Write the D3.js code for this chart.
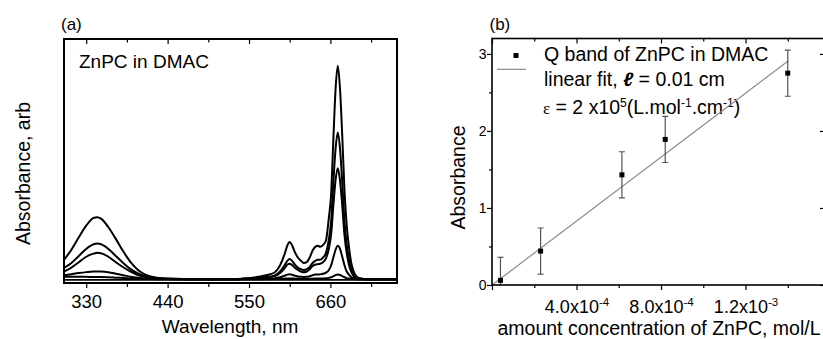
<!DOCTYPE html>
<html>
<head>
<meta charset="utf-8">
<script src="https://cdn.jsdelivr.net/npm/d3@7"></script>
<style>
  body { margin: 0; background: #fff; }
  svg { display: block; font-family: "Liberation Sans", Arial, sans-serif; }
</style>
</head>
<body>
<svg id="chart" width="823" height="339"></svg>
<script>
// ---- panel (a) data: absorption spectra of ZnPC in DMAC ----
const wavelength = [300, 310, 320, 330, 340, 345, 350, 360, 370, 380, 390, 400, 410, 420, 440, 480, 520, 540, 555, 565,
  575, 585, 592, 598, 602, 605, 608, 612, 616, 620, 624, 628, 632, 636, 640, 643, 646, 650, 654, 658,
  661, 664, 667, 670, 673, 676, 679, 682, 685, 688, 691, 695, 700, 710, 730, 750];
const spec1 = [.25, .38, .54, .69, .79, .80, .78, .67, .52, .36, .22, .12, .06, .03, .01, 0, 0, .008, .02, .035,
  .055, .09, .18, .32, .44, .48, .44, .35, .28, .24, .21, .22, .28, .37, .42, .43, .42, .44, .50, .80,
  1.10, 1.80, 2.45, 2.75, 2.45, 1.85, 1.15, .70, .42, .22, .11, .04, .012, 0, 0, 0];
const spec2 = [.145, .21, .30, .39, .45, .46, .45, .39, .30, .21, .13, .075, .04, .02, .006, 0, 0, .005, .012, .02,
  .03, .05, .10, .18, .24, .26, .24, .19, .15, .13, .12, .13, .16, .21, .24, .25, .25, .28, .34, .52,
  .75, 1.25, 1.68, 1.89, 1.68, 1.25, .75, .45, .26, .13, .06, .02, .006, 0, 0, 0];
const spec3 = [.10, .15, .22, .29, .33, .34, .335, .29, .22, .155, .10, .055, .03, .015, .005, 0, 0, .004, .01, .016,
  .025, .04, .08, .14, .19, .20, .185, .15, .12, .10, .09, .10, .13, .17, .19, .195, .20, .22, .27, .40,
  .58, .95, 1.28, 1.43, 1.27, .95, .57, .34, .19, .10, .045, .015, .004, 0, 0, 0];
const spec4 = [.05, .065, .08, .092, .10, .10, .099, .09, .072, .052, .033, .02, .01, .005, .002, 0, 0, .001, .003, .005,
  .008, .013, .025, .045, .06, .064, .058, .045, .037, .033, .03, .032, .04, .052, .06, .062, .063, .07, .085, .12,
  .18, .28, .38, .43, .39, .29, .18, .10, .06, .03, .015, .005, .001, 0, 0, 0];
const spec5 = [.033, .033, .032, .031, .03, .03, .029, .026, .021, .016, .011, .007, .004, .002, .001, 0, 0, 0, 0, .001,
  .002, .003, .005, .008, .01, .011, .01, .008, .006, .005, .005, .005, .006, .008, .009, .009, .01, .011, .013, .018,
  .026, .04, .054, .06, .055, .04, .026, .015, .009, .005, .002, .001, 0, 0, 0, 0];
const blankWl = [300, 750];
const blank = [-0.008, -0.008];
const wlMajor = [330, 440, 550, 660];
const wlMinor = [385, 495, 605, 715];

// ---- panel (b) data: Q band absorbance vs concentration ----
const conc = [4.0e-5, 2.3e-4, 6.15e-4, 8.2e-4, 1.40e-3];
const absorb = [0.06, 0.44, 1.43, 1.89, 2.75];
const absErr = [0.3, 0.3, 0.3, 0.3, 0.3];
const fitConc = [0, 1.403e-3];
const fitAbs = [0, 2.91];
const concMajor = [0, 4e-4, 8e-4, 1.2e-3];
const concMinor = [2e-4, 6e-4, 1e-3, 1.4e-3];
const concTickBase = ["", "4.0x10", "8.0x10", "1.2x10"];
const concTickExp = ["", "-4", "-4", "-3"];
const absMajor = [0, 1, 2, 3];
const absMinor = [0.5, 1.5, 2.5];

const svg = d3.select('#chart');

// ================= panel (a) =================
const pa = { left: 64, right: 397, top: 39, bottom: 283 };
const xA = d3.scaleLinear().domain([300, 750]).range([pa.left, pa.right]);
const yA = d3.scaleLinear().domain([-0.048, 3.093]).range([pa.bottom, pa.top]);

svg.append('clipPath').attr('id', 'clipA')
  .append('rect').attr('x', pa.left).attr('y', pa.top)
  .attr('width', pa.right - pa.left).attr('height', pa.bottom - pa.top);

const lineA = d3.line()
  .x(d => xA(d[0]))
  .y(d => yA(d[1]))
  .curve(d3.curveMonotoneX);

const spectra = [spec1, spec2, spec3, spec4, spec5];
const curves = svg.append('g').attr('clip-path', 'url(#clipA)');
curves.append('path')
  .datum(d3.zip(blankWl, blank))
  .attr('d', lineA).attr('fill', 'none').attr('stroke', '#000').attr('stroke-width', 1.7);
curves.selectAll('path.spec')
  .data(spectra)
  .enter().append('path')
  .attr('class', 'spec')
  .attr('d', s => lineA(d3.zip(wavelength, s)))
  .attr('fill', 'none')
  .attr('stroke', '#000')
  .attr('stroke-width', 2)
  .attr('stroke-linejoin', 'round');

// ticks
const axA = svg.append('g').attr('transform', `translate(0 ${pa.bottom})`)
  .call(d3.axisBottom(xA).tickValues(wlMajor).tickSize(5).tickPadding(7).tickFormat(d3.format('d')));
svg.append('g').attr('transform', `translate(0 ${pa.bottom})`)
  .call(d3.axisBottom(xA).tickValues(wlMinor).tickSize(4).tickFormat(''));
svg.append('g').attr('transform', `translate(0 ${pa.top})`)
  .call(d3.axisTop(xA).tickValues(wlMajor).tickSize(-5).tickFormat(''));
svg.append('g').attr('transform', `translate(0 ${pa.top})`)
  .call(d3.axisTop(xA).tickValues(wlMinor).tickSize(-3.5).tickFormat(''));
axA.selectAll('text').style('font-size', '18.5px');

svg.append('rect')
  .attr('x', pa.left).attr('y', pa.top)
  .attr('width', pa.right - pa.left).attr('height', pa.bottom - pa.top)
  .attr('fill', 'none').attr('stroke', '#000').attr('stroke-width', 2);

svg.append('text').attr('x', 61).attr('y', 29.5).style('font-size', '17px').text('(a)');
svg.append('text').attr('x', 79).attr('y', 67.5).style('font-size', '19px').text('ZnPC in DMAC');
svg.append('text').attr('x', 230).attr('y', 333).attr('text-anchor', 'middle')
  .style('font-size', '19px').text('Wavelength, nm');
svg.append('text').attr('transform', 'translate(30 173.5) rotate(-90)').attr('text-anchor', 'middle')
  .style('font-size', '19.5px').text('Absorbance, arb');

// ================= panel (b) =================
const pb = { left: 492, right: 826, top: 38.5, bottom: 285 };
const xB = d3.scaleLinear().domain([0, 1.581e-3]).range([pb.left, pb.right]);
const yB = d3.scaleLinear().domain([0, 3.2]).range([pb.bottom, pb.top]);

svg.append('clipPath').attr('id', 'clipB')
  .append('rect').attr('x', pb.left).attr('y', pb.top)
  .attr('width', pb.right - pb.left).attr('height', pb.bottom - pb.top);

// ticks
const axB = svg.append('g').attr('transform', `translate(0 ${pb.bottom})`)
  .call(d3.axisBottom(xB).tickValues(concMajor).tickSize(5).tickPadding(10.5).tickFormat(''));
svg.append('g').attr('transform', `translate(0 ${pb.bottom})`)
  .call(d3.axisBottom(xB).tickValues(concMinor).tickSize(3).tickFormat(''));
svg.append('g').attr('transform', `translate(0 ${pb.top})`)
  .call(d3.axisTop(xB).tickValues(concMajor).tickSize(-5).tickFormat(''));
svg.append('g').attr('transform', `translate(0 ${pb.top})`)
  .call(d3.axisTop(xB).tickValues(concMinor).tickSize(-3).tickFormat(''));

axB.selectAll('text').each(function (d, i) {
  const t = d3.select(this).style('font-size', '18px');
  if (!concTickBase[i]) return;
  t.append('tspan').text(concTickBase[i]);
  t.append('tspan').attr('dy', '-7px').style('font-size', '11.5px').text(concTickExp[i]);
});

const ayB = svg.append('g').attr('transform', `translate(${pb.left} 0)`)
  .call(d3.axisLeft(yB).tickValues(absMajor).tickSize(5).tickPadding(0.5).tickFormat(d3.format('d')));
svg.append('g').attr('transform', `translate(${pb.left} 0)`)
  .call(d3.axisLeft(yB).tickValues(absMinor).tickSize(3).tickFormat(''));
svg.append('g').attr('transform', `translate(${pb.right} 0)`)
  .call(d3.axisRight(yB).tickValues(absMajor).tickSize(-6).tickFormat(''));
svg.append('g').attr('transform', `translate(${pb.right} 0)`)
  .call(d3.axisRight(yB).tickValues(absMinor).tickSize(-3).tickFormat(''));
ayB.selectAll('text').style('font-size', '14px');

svg.selectAll('.domain').remove();
svg.selectAll('.tick line').attr('stroke-width', 1.2);

// legend
svg.append('rect').attr('x', 513.5).attr('y', 53).attr('width', 5).attr('height', 5).attr('fill', '#000');
svg.append('line').attr('x1', 497).attr('x2', 526).attr('y1', 69.3).attr('y2', 69.3)
  .attr('stroke', '#8a8a8a').attr('stroke-width', 1.2);
svg.append('text').attr('x', 544).attr('y', 61).style('font-size', '19.5px').text('Q band of ZnPC in DMAC');
const l2 = svg.append('text').attr('x', 544).attr('y', 86).style('font-size', '19.5px');
l2.append('tspan').text('linear fit, ');
l2.append('tspan').style('font-style', 'italic').style('font-weight', 'bold').text('ℓ');
l2.append('tspan').text(' = 0.01 cm');
const l3 = svg.append('text').attr('x', 543).attr('y', 114).style('font-size', '19.5px');
l3.append('tspan').style('font-family', '"Liberation Serif", serif').style('font-size', '17px').text('ε');
l3.append('tspan').text(' = 2 x10');
l3.append('tspan').attr('dy', '-7px').style('font-size', '12px').text('5');
l3.append('tspan').attr('dy', '7px').text('(L.mol');
l3.append('tspan').attr('dy', '-7px').style('font-size', '12px').text('-1');
l3.append('tspan').attr('dy', '7px').text('.cm');
l3.append('tspan').attr('dy', '-7px').style('font-size', '12px').text('-1');
l3.append('tspan').attr('dy', '7px').text(')');

const plotB = svg.append('g').attr('clip-path', 'url(#clipB)');

// linear fit
plotB.append('path')
  .datum(d3.zip(fitConc, fitAbs))
  .attr('d', d3.line().x(d => xB(d[0])).y(d => yB(d[1])))
  .attr('fill', 'none').attr('stroke', '#8a8a8a').attr('stroke-width', 1.2);

// error bars + points
const pts = d3.zip(conc, absorb, absErr);
const eb = plotB.append('g').attr('stroke', '#555').attr('stroke-width', 1.2);
eb.selectAll('line.v').data(pts).enter().append('line')
  .attr('x1', d => xB(d[0])).attr('x2', d => xB(d[0]))
  .attr('y1', d => yB(d[1] - d[2])).attr('y2', d => yB(d[1] + d[2]));
eb.selectAll('line.t').data(pts).enter().append('line')
  .attr('x1', d => xB(d[0]) - 3).attr('x2', d => xB(d[0]) + 3)
  .attr('y1', d => yB(d[1] + d[2])).attr('y2', d => yB(d[1] + d[2]));
eb.selectAll('line.b').data(pts).enter().append('line')
  .attr('x1', d => xB(d[0]) - 3).attr('x2', d => xB(d[0]) + 3)
  .attr('y1', d => yB(d[1] - d[2])).attr('y2', d => yB(d[1] - d[2]));
plotB.append('g').selectAll('rect').data(pts).enter().append('rect')
  .attr('x', d => xB(d[0]) - 2.5).attr('y', d => yB(d[1]) - 2.5)
  .attr('width', 5).attr('height', 5).attr('fill', '#000');

svg.append('rect')
  .attr('x', pb.left).attr('y', pb.top)
  .attr('width', pb.right - pb.left).attr('height', pb.bottom - pb.top)
  .attr('fill', 'none').attr('stroke', '#000').attr('stroke-width', 1.6);

svg.append('text').attr('x', 489.5).attr('y', 29.5).style('font-size', '17px').text('(b)');
svg.append('text').attr('x', 659).attr('y', 335).attr('text-anchor', 'middle')
  .style('font-size', '19.5px').text('amount concentration of ZnPC, mol/L');
svg.append('text').attr('transform', 'translate(465 177.5) rotate(-90)').attr('text-anchor', 'middle')
  .style('font-size', '19.5px').text('Absorbance');
</script>
</body>
</html>
